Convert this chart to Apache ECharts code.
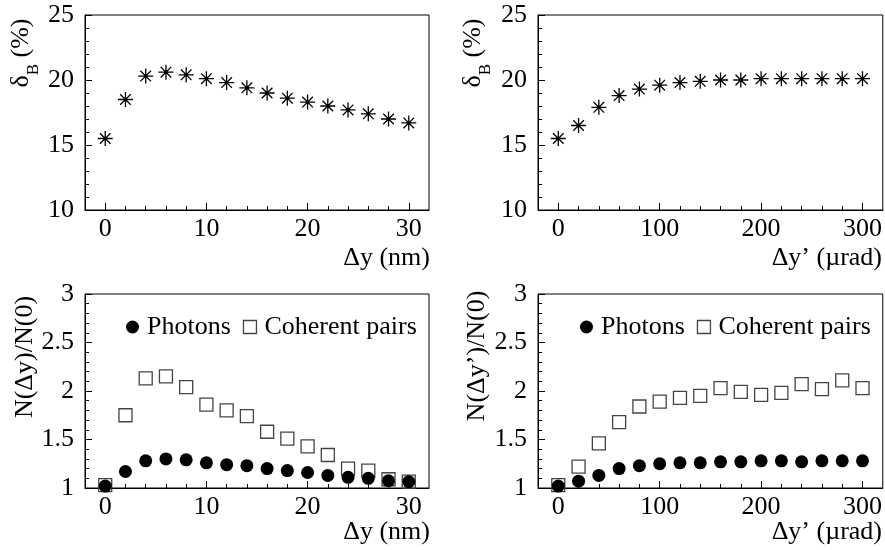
<!DOCTYPE html>
<html>
<head>
<meta charset="utf-8">
<script src="https://cdn.jsdelivr.net/npm/echarts@6/dist/echarts.min.js"></script>
<style>
html,body{margin:0;padding:0;background:#fff;}
#chart{width:885px;height:550px;}
</style>
</head>
<body>
<div id="chart"></div>
<script>
// ---------- data ----------
const dyNm = [0,2,4,6,8,10,12,14,16,18,20,22,24,26,28,30];
const dyUrad = [0,20,40,60,80,100,120,140,160,180,200,220,240,260,280,300];

const deltaB_dy  = [15.5,18.5,20.3,20.6,20.4,20.1,19.8,19.4,19.0,18.6,18.3,18.0,17.7,17.4,17.0,16.7];
const deltaB_dyp = [15.5,16.5,17.9,18.8,19.3,19.6,19.8,19.9,20.0,20.0,20.1,20.1,20.1,20.1,20.1,20.1];

const photons_dy  = [1.02,1.17,1.28,1.30,1.29,1.26,1.24,1.23,1.20,1.18,1.16,1.13,1.11,1.10,1.075,1.065];
const pairs_dy    = [1.03,1.75,2.13,2.15,2.04,1.86,1.80,1.74,1.58,1.51,1.43,1.34,1.20,1.18,1.09,1.065];
const photons_dyp = [1.02,1.07,1.13,1.20,1.23,1.25,1.26,1.26,1.27,1.27,1.28,1.28,1.27,1.28,1.28,1.28];
const pairs_dyp   = [1.03,1.22,1.46,1.68,1.84,1.89,1.93,1.95,2.03,1.99,1.96,1.98,2.07,2.02,2.11,2.03];

// tick values
const xMajorNm = [0,10,20,30];
const xMinorNm = [2,4,6,8,12,14,16,18,22,24,26,28];
const xMajorUrad = [0,100,200,300];
const xMinorUrad = [20,40,60,80,120,140,160,180,220,240,260,280];
const yMajorTop = [10,15,20,25];
const yMinorTop = [11,12,13,14,16,17,18,19,21,22,23,24];
const yMajorBot = [1,1.5,2,2.5,3];
const yMinorBot = [1.1,1.2,1.3,1.4,1.6,1.7,1.8,1.9,2.1,2.2,2.3,2.4,2.6,2.7,2.8,2.9];

const seriesNames = ['Photons','Coherent pairs'];

// ---------- layout / style ----------
const FONT = 'Liberation Serif';
const FS = 26;
const grids = [
  {left:85, top:15, width:344, height:195},
  {left:538, top:15, width:345, height:195},
  {left:85, top:294, width:344, height:194},
  {left:538, top:294, width:345, height:194}
];
const xr = [[-2,32],[-20,320],[-2,32],[-20,320]];
const yr = [[10,25],[10,25],[1,3],[1,3]];
const xMaj = [xMajorNm,xMajorUrad,xMajorNm,xMajorUrad];
const xMin = [xMinorNm,xMinorUrad,xMinorNm,xMinorUrad];
const yMaj = [yMajorTop,yMajorTop,yMajorBot,yMajorBot];
const yMin = [yMinorTop,yMinorTop,yMinorBot,yMinorBot];

const xAxes = [], yAxes = [];
for (let g = 0; g < 4; g++) {
  xAxes.push({
    type:'value', gridIndex:g, min:xr[g][0], max:xr[g][1], position:'bottom',
    axisLine:{show:true, onZero:false, lineStyle:{color:'#000', width:1}},
    axisTick:{show:true, inside:true, length:7, customValues:xMaj[g], lineStyle:{color:'#000'}},
    axisLabel:{show:true, customValues:xMaj[g], margin:6, color:'#000', fontFamily:FONT, fontSize:FS},
    splitLine:{show:false}
  });
  xAxes.push({
    type:'value', gridIndex:g, min:xr[g][0], max:xr[g][1], position:'bottom',
    axisLine:{show:false, onZero:false},
    axisTick:{show:true, inside:true, length:4, customValues:xMin[g], lineStyle:{color:'#000'}},
    axisLabel:{show:false, customValues:xMin[g]},
    splitLine:{show:false}
  });
  yAxes.push({
    type:'value', gridIndex:g, min:yr[g][0], max:yr[g][1], position:'left',
    axisLine:{show:true, onZero:false, lineStyle:{color:'#000', width:1}},
    axisTick:{show:true, inside:true, length:7, customValues:yMaj[g], lineStyle:{color:'#000'}},
    axisLabel:{show:true, customValues:yMaj[g], margin:11, color:'#000', fontFamily:FONT, fontSize:FS},
    splitLine:{show:false}
  });
  yAxes.push({
    type:'value', gridIndex:g, min:yr[g][0], max:yr[g][1], position:'left',
    axisLine:{show:false, onZero:false},
    axisTick:{show:true, inside:true, length:4, customValues:yMin[g], lineStyle:{color:'#000'}},
    axisLabel:{show:false, customValues:yMin[g]},
    splitLine:{show:false}
  });
}

const pairs = (xs, ys) => xs.map((x, i) => [x, ys[i]]);
const starPath = 'path://M0,-10L0,10M-10,0L10,0M-7.07,-7.07L7.07,7.07M-7.07,7.07L7.07,-7.07';

function starSeries(g, xs, ys) {
  return [{
    type:'scatter', xAxisIndex:2*g, yAxisIndex:2*g, data:pairs(xs, ys),
    symbol:starPath, symbolSize:15,
    itemStyle:{color:'rgba(0,0,0,0)', borderColor:'#000', borderWidth:1.3, opacity:1},
    silent:true
  },{
    type:'scatter', xAxisIndex:2*g, yAxisIndex:2*g, data:pairs(xs, ys),
    symbol:'circle', symbolSize:3.5, itemStyle:{color:'#000', opacity:1}, silent:true
  }];
}
function pairSeries(g, xs, yPh, yPa) {
  return [{
    name:seriesNames[1], type:'scatter', xAxisIndex:2*g, yAxisIndex:2*g, data:pairs(xs, yPa),
    symbol:'rect', symbolSize:13,
    itemStyle:{color:'rgba(255,255,255,0)', borderColor:'#444', borderWidth:1.3, opacity:1}
  },{
    name:seriesNames[0], type:'scatter', xAxisIndex:2*g, yAxisIndex:2*g, data:pairs(xs, yPh),
    symbol:'circle', symbolSize:13, itemStyle:{color:'#000', opacity:1}
  }];
}

const legendBase = {
  orient:'horizontal', itemWidth:13, itemHeight:13, itemGap:12,
  textStyle:{fontFamily:FONT, fontSize:FS, color:'#000', padding:[0,0,0,3]},
  selectedMode:false,
  data:[
    {name:seriesNames[0], icon:'circle', itemStyle:{color:'#000', borderWidth:0, opacity:1}},
    {name:seriesNames[1], icon:'rect', itemStyle:{color:'#fff', borderColor:'#444', borderWidth:1.3, opacity:1}}
  ]
};

const titleFont = FS + 'px "Liberation Serif"';
function textEl(x, y, text, align) {
  return {type:'text', x:x, y:y, silent:true,
    style:{text:text, font:titleFont, fill:'#000', textAlign:align, textVerticalAlign:'middle'}};
}
function richY(x, y, main) {
  return {type:'text', x:x, y:y, rotation:Math.PI/2, silent:true,
    style:{text:main, fill:'#000', align:'center', verticalAlign:'middle',
      rich:{
        m:{fontFamily:FONT, fontSize:FS, lineHeight:26, verticalAlign:'top'},
        s:{fontFamily:FONT, fontSize:17, lineHeight:34, verticalAlign:'bottom'}
      }}};
}

const option = {
  backgroundColor:'#fff',
  animation:false,
  grid: grids.map(g => Object.assign({show:true, borderColor:'#000', borderWidth:1, backgroundColor:'transparent'}, g)),
  xAxis: xAxes,
  yAxis: yAxes,
  legend: [
    Object.assign({}, legendBase, {left:121, top:309}),
    Object.assign({}, legendBase, {left:575, top:309})
  ],
  series: [].concat(
    starSeries(0, dyNm, deltaB_dy),
    starSeries(1, dyUrad, deltaB_dyp),
    pairSeries(2, dyNm, photons_dy, pairs_dy),
    pairSeries(3, dyUrad, photons_dyp, pairs_dyp)
  ),
  graphic: [
    textEl(430, 258, 'Δy (nm)', 'right'),
    textEl(882, 258, 'Δy’ (µrad)', 'right'),
    textEl(430, 532, 'Δy (nm)', 'right'),
    textEl(882, 532, 'Δy’ (µrad)', 'right'),
    richY(25, 53, '{m|δ}{s|B}{m| (%)}'),
    richY(477, 53, '{m|δ}{s|B}{m| (%)}'),
    richY(25, 357, '{m|N(Δy)/N(0)}'),
    richY(477, 356, '{m|N(Δy’)/N(0)}')
  ]
};

const chart = echarts.init(document.getElementById('chart'), null, {renderer:'canvas'});
chart.setOption(option);
</script>
</body>
</html>
